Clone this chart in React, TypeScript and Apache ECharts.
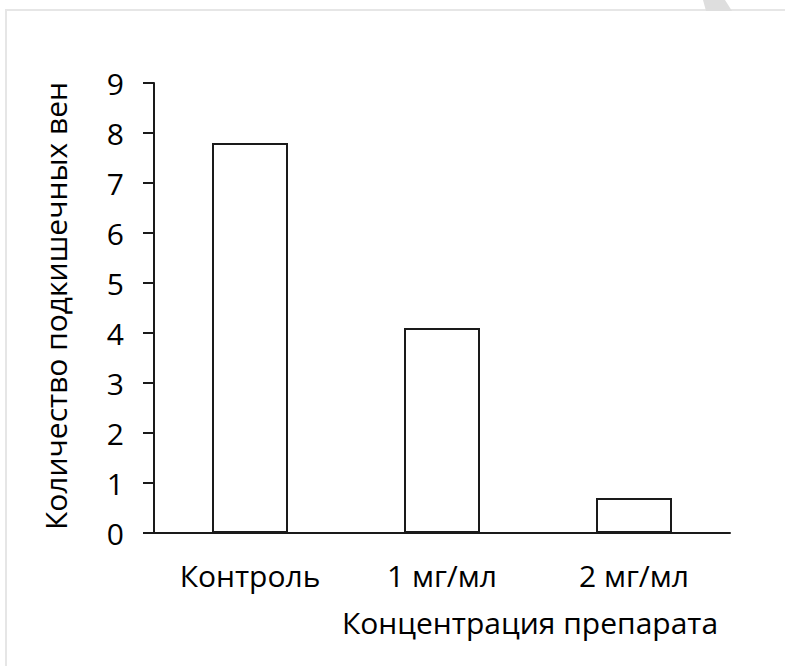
import React, { useEffect, useRef } from "react";
import * as echarts from "echarts";

const categories = ["Контроль", "1 мг/мл", "2 мг/мл"];
const values = [7.8, 4.1, 0.7];
const yTicks = { min: 0, max: 9, interval: 1 };
const yTitle = "Количество подкишечных вен";
const xTitle = "Концентрация препарата";

const FONT = "'Open Sans', 'Noto Sans', sans-serif";

export default function App() {
  const ref = useRef<HTMLDivElement>(null);
  useEffect(() => {
    if (!ref.current) return;
    const chart = echarts.init(ref.current, undefined, { renderer: "svg" });
    chart.setOption({
      animation: false,
      backgroundColor: "#ffffff",
      grid: { left: 154, right: 55, top: 83, bottom: 133 },
      xAxis: {
        type: "category",
        data: categories,
        axisLine: { show: true, lineStyle: { color: "#1a1a1a", width: 2 } },
        axisTick: { show: false },
        axisLabel: { color: "#000", fontSize: 30, fontWeight: 500, fontFamily: FONT, margin: 27 },
        splitLine: { show: false },
      },
      yAxis: {
        type: "value",
        min: yTicks.min,
        max: yTicks.max,
        interval: yTicks.interval,
        axisLine: { show: true, lineStyle: { color: "#1a1a1a", width: 2 } },
        axisTick: { show: true, inside: false, length: 11, lineStyle: { color: "#1a1a1a", width: 2 } },
        axisLabel: { color: "#000", fontSize: 30, fontWeight: 500, fontFamily: FONT, margin: 30 },
        splitLine: { show: false },
      },
      series: [
        {
          type: "bar",
          data: values,
          barWidth: 76,
          itemStyle: { color: "#ffffff", borderColor: "#1a1a1a", borderWidth: 2 },
        },
      ],
      graphic: [
        {
          type: "rect",
          shape: { x: 6, y: 10, width: 900, height: 900 },
          style: { fill: "none", stroke: "#e6e6e6", lineWidth: 2 },
          silent: true,
        },
        {
          type: "polygon",
          shape: { points: [[703, 0], [725, 0], [732, 11], [706, 11]] },
          style: { fill: "#dedede" },
          silent: true,
        },
        {
          type: "text",
          x: 55,
          y: 306,
          rotation: Math.PI / 2,
          style: {
            text: yTitle,
            fontSize: 30,
            fontWeight: 500,
            fontFamily: FONT,
            fill: "#000",
            align: "center",
            verticalAlign: "middle",
          },
        },
        {
          type: "text",
          x: 530,
          y: 622,
          style: {
            text: xTitle,
            fontSize: 30,
            fontWeight: 500,
            fontFamily: FONT,
            fill: "#000",
            align: "center",
            verticalAlign: "middle",
          },
        },
      ],
    });
    return () => chart.dispose();
  }, []);
  return (
    <div
      ref={ref}
      style={{ position: "fixed", left: 0, top: 0, width: 785, height: 666 }}
    />
  );
}
